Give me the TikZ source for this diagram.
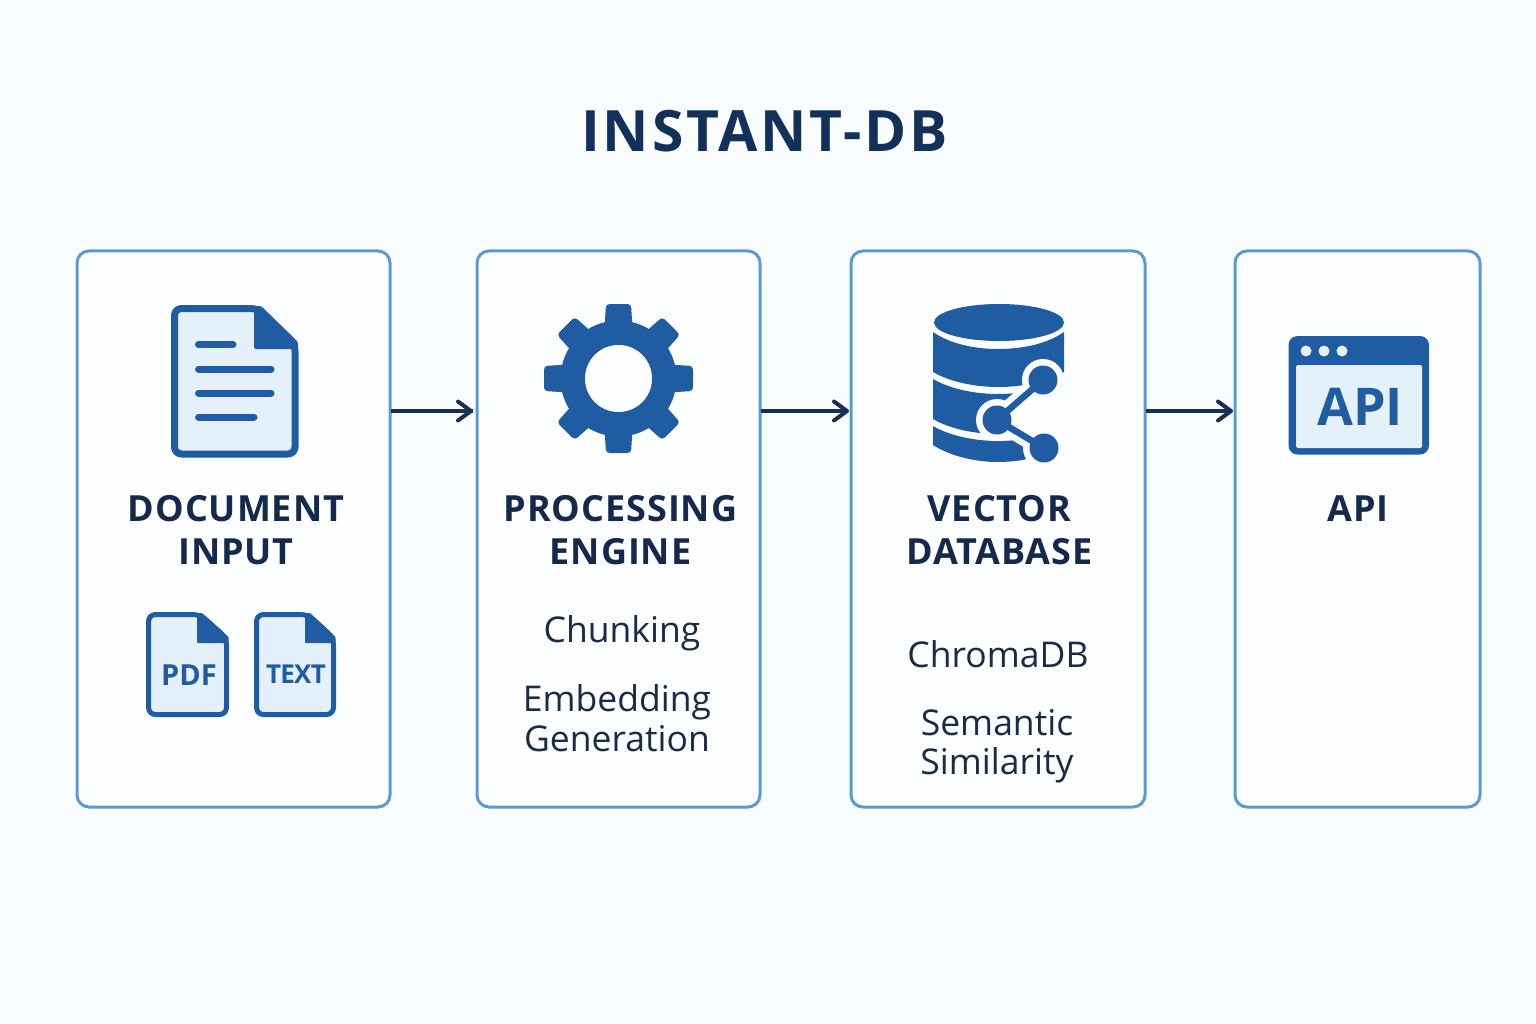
\documentclass[tikz,border=0pt]{standalone}
\usepackage{fontspec}
\setmainfont{Open Sans}
\newfontfamily\titlefont[LetterSpace=5]{Open Sans}
\newfontfamily\headfont[LetterSpace=2.6]{Open Sans}
\newfontfamily\tightfont[LetterSpace=-3]{Open Sans}
\definecolor{bgc}{HTML}{FAFDFF}
\definecolor{boxc}{HTML}{FDFEFF}
\definecolor{edgec}{HTML}{5B9BD5}
\definecolor{iconc}{HTML}{1F5CA1}
\definecolor{paperc}{HTML}{E4F0FA}
\definecolor{titlec}{HTML}{12305A}
\definecolor{headc}{HTML}{14294B}
\definecolor{bodyc}{HTML}{1A2B4A}
\definecolor{arrowc}{HTML}{1B2F55}
\tikzset{
  x=1pt,y=-1pt,
  panel/.style={draw=edgec,line width=3pt,fill=boxc,rounded corners=12pt,minimum height=556pt,anchor=north west,inner sep=0pt,outer sep=0pt},
  flow/.style={draw=arrowc,line width=3.4pt},
  chev/.style={draw=arrowc,line width=4pt,line cap=round,line join=round},
  head/.style={text=headc,font=\headfont\bfseries\fontsize{36}{43}\selectfont,align=center,inner sep=0pt},
  body/.style={text=bodyc,font=\fontsize{35.5}{39.5}\selectfont,align=center,inner sep=0pt},
  iconline/.style={draw=iconc,line width=7pt,line cap=round},
  iconedge/.style={draw=iconc,fill=paperc,line join=round},
  halo/.style={draw=boxc,line width=19pt},
  link/.style={draw=iconc,line width=6.5pt},
}
\begin{document}
\begin{tikzpicture}
\useasboundingbox (0,0) rectangle (1536,1024);
\fill[bgc] (0,0) rectangle (1536,1024);

\node[text=titlec,font=\titlefont\bfseries\fontsize{57}{60}\selectfont,inner sep=0pt] (title) at (764.5,131) {INSTANT-DB};

% panels
\node[panel,minimum width=313pt] (p1) at (77,251) {};
\node[panel,minimum width=283pt] (p2) at (477,251) {};
\node[panel,minimum width=294pt] (p3) at (851,251) {};
\node[panel,minimum width=245pt] (p4) at (1235,251) {};

% connectors
\draw[flow] ([yshift=118pt,xshift=1pt]p1.east) -- ([yshift=118pt,xshift=-4pt]p2.west);
\draw[chev] (458,401.5) -- (471,411) -- (458,420.5);
\draw[flow] ([yshift=118pt,xshift=1pt]p2.east) -- ([yshift=118pt,xshift=-4pt]p3.west);
\draw[chev] (834,401.5) -- (847,411) -- (834,420.5);
\draw[flow] ([yshift=118pt,xshift=1pt]p3.east) -- ([yshift=118pt,xshift=-4pt]p4.west);
\draw[chev] (1218,401.5) -- (1231,411) -- (1218,420.5);

% document icon
\draw[iconedge,line width=7pt,rounded corners=7pt] (174.5,308.5) -- (258,308.5) -- (295,344) -- (295,454) -- (174.5,454) -- cycle;
\fill[iconc,rounded corners=1.5pt] (254,306) -- (261,306) -- (298,342) -- (298,349) -- (254,349) -- cycle;
\draw[iconline] (198.5,344.5) -- (233,344.5);
\draw[iconline] (198.5,369) -- (271,369);
\draw[iconline] (198.5,393) -- (271,393);
\draw[iconline] (198.5,417) -- (254,417);

% PDF file
\draw[iconedge,line width=5pt,rounded corners=7pt] (148.5,614.5) -- (200,614.5) -- (226.5,638) -- (226.5,714.5) -- (148.5,714.5) -- cycle;
\fill[iconc,rounded corners=1pt] (197,613) -- (202,613) -- (228.5,637) -- (228.5,643) -- (197,643) -- cycle;
\node[text=iconc,font=\bfseries\fontsize{29}{30}\selectfont,inner sep=0pt] (pdf) at (189,675) {PDF};

% TEXT file
\draw[iconedge,line width=5pt,rounded corners=7pt] (256.5,614.5) -- (308,614.5) -- (333.5,638) -- (333.5,714.5) -- (256.5,714.5) -- cycle;
\fill[iconc,rounded corners=1pt] (305,613) -- (310,613) -- (335.5,637) -- (335.5,643) -- (305,643) -- cycle;
\node[text=iconc,font=\tightfont\bfseries\fontsize{26}{30}\selectfont,inner sep=0pt] (txt) at (296,674) {TEXT};

% gear
\begin{scope}[shift={(618.5,378.5)}]
  \fill[iconc] (0,0) circle (58);
  \foreach \a in {0,45,...,315}
    \fill[iconc,rotate=\a,rounded corners=3.5pt] (-14,-50) -- (-12.5,-74.5) -- (12.5,-74.5) -- (14,-50) -- cycle;
  \fill[boxc] (0,0) circle (33.5);
\end{scope}

% database
\fill[iconc] (999,322.5) ellipse (65 and 18.5);
\fill[iconc] (933,332) .. controls (950,344) and (975,349) .. (998,349) .. controls (1022,349) and (1047,344) .. (1064,332)
  -- (1064,372) .. controls (1047,382) and (1022,387) .. (998,387) .. controls (975,387) and (950,382) .. (933,372) -- cycle;
\fill[iconc] (933,379) .. controls (950,389) and (975,394) .. (998,394) .. controls (1022,394) and (1047,389) .. (1064,379)
  -- (1064,419) .. controls (1047,429) and (1022,434) .. (998,434) .. controls (975,434) and (950,429) .. (933,419) -- cycle;
\fill[iconc] (933,426) .. controls (950,436) and (975,441) .. (998,441) .. controls (1022,441) and (1047,436) .. (1064,426)
  -- (1064,445) .. controls (1047,456) and (1022,462) .. (998,462) .. controls (975,462) and (950,456) .. (933,445) -- cycle;
\coordinate (na) at (1043,380);
\coordinate (nb) at (997,420);
\coordinate (nc) at (1044,448);
\fill[boxc] (na) -- (nb) -- (nc) -- (1072,470) -- (1072,375) -- cycle;
\draw[halo] (na) -- (nb) -- (nc) -- (1030,470);
\fill[boxc] (na) circle (21);
\fill[boxc] (nb) circle (21);
\fill[boxc] (nc) circle (21);
\draw[link] (na) -- (nb) -- (nc);
\fill[iconc] (na) circle (14.5);
\fill[iconc] (nb) circle (14.5);
\fill[iconc] (nc) circle (14.5);

% API window
\fill[iconc,rounded corners=9pt] (1288.5,336) rectangle (1429,454.5);
\fill[paperc,rounded corners=1.5pt] (1296,365) rectangle (1422,448);
\foreach \x in {1306,1324,1342} \fill[paperc] (\x,351) circle (5.5);
\node[text=iconc,font=\bfseries\fontsize{52}{54}\selectfont,inner sep=0pt] (apiicon) at (1360,407) {API};

% headings
\node[head] (h1) at (236,530) {DOCUMENT\\INPUT};
\node[head] (h2) at (620.5,530) {PROCESSING\\ENGINE};
\node[head] (h3) at (999.5,530) {VECTOR\\DATABASE};
\node[head] (h4) at (1358,509) {API};

% body
\node[body] (b1) at (622,633) {Chunking};
\node[body] (b2) at (617,718) {Embedding\\Generation};
\node[body] (b3) at (998,654) {ChromaDB};
\node[body] (b4) at (997,746) {Semantic\\Similarity};
\end{tikzpicture}
\end{document}
